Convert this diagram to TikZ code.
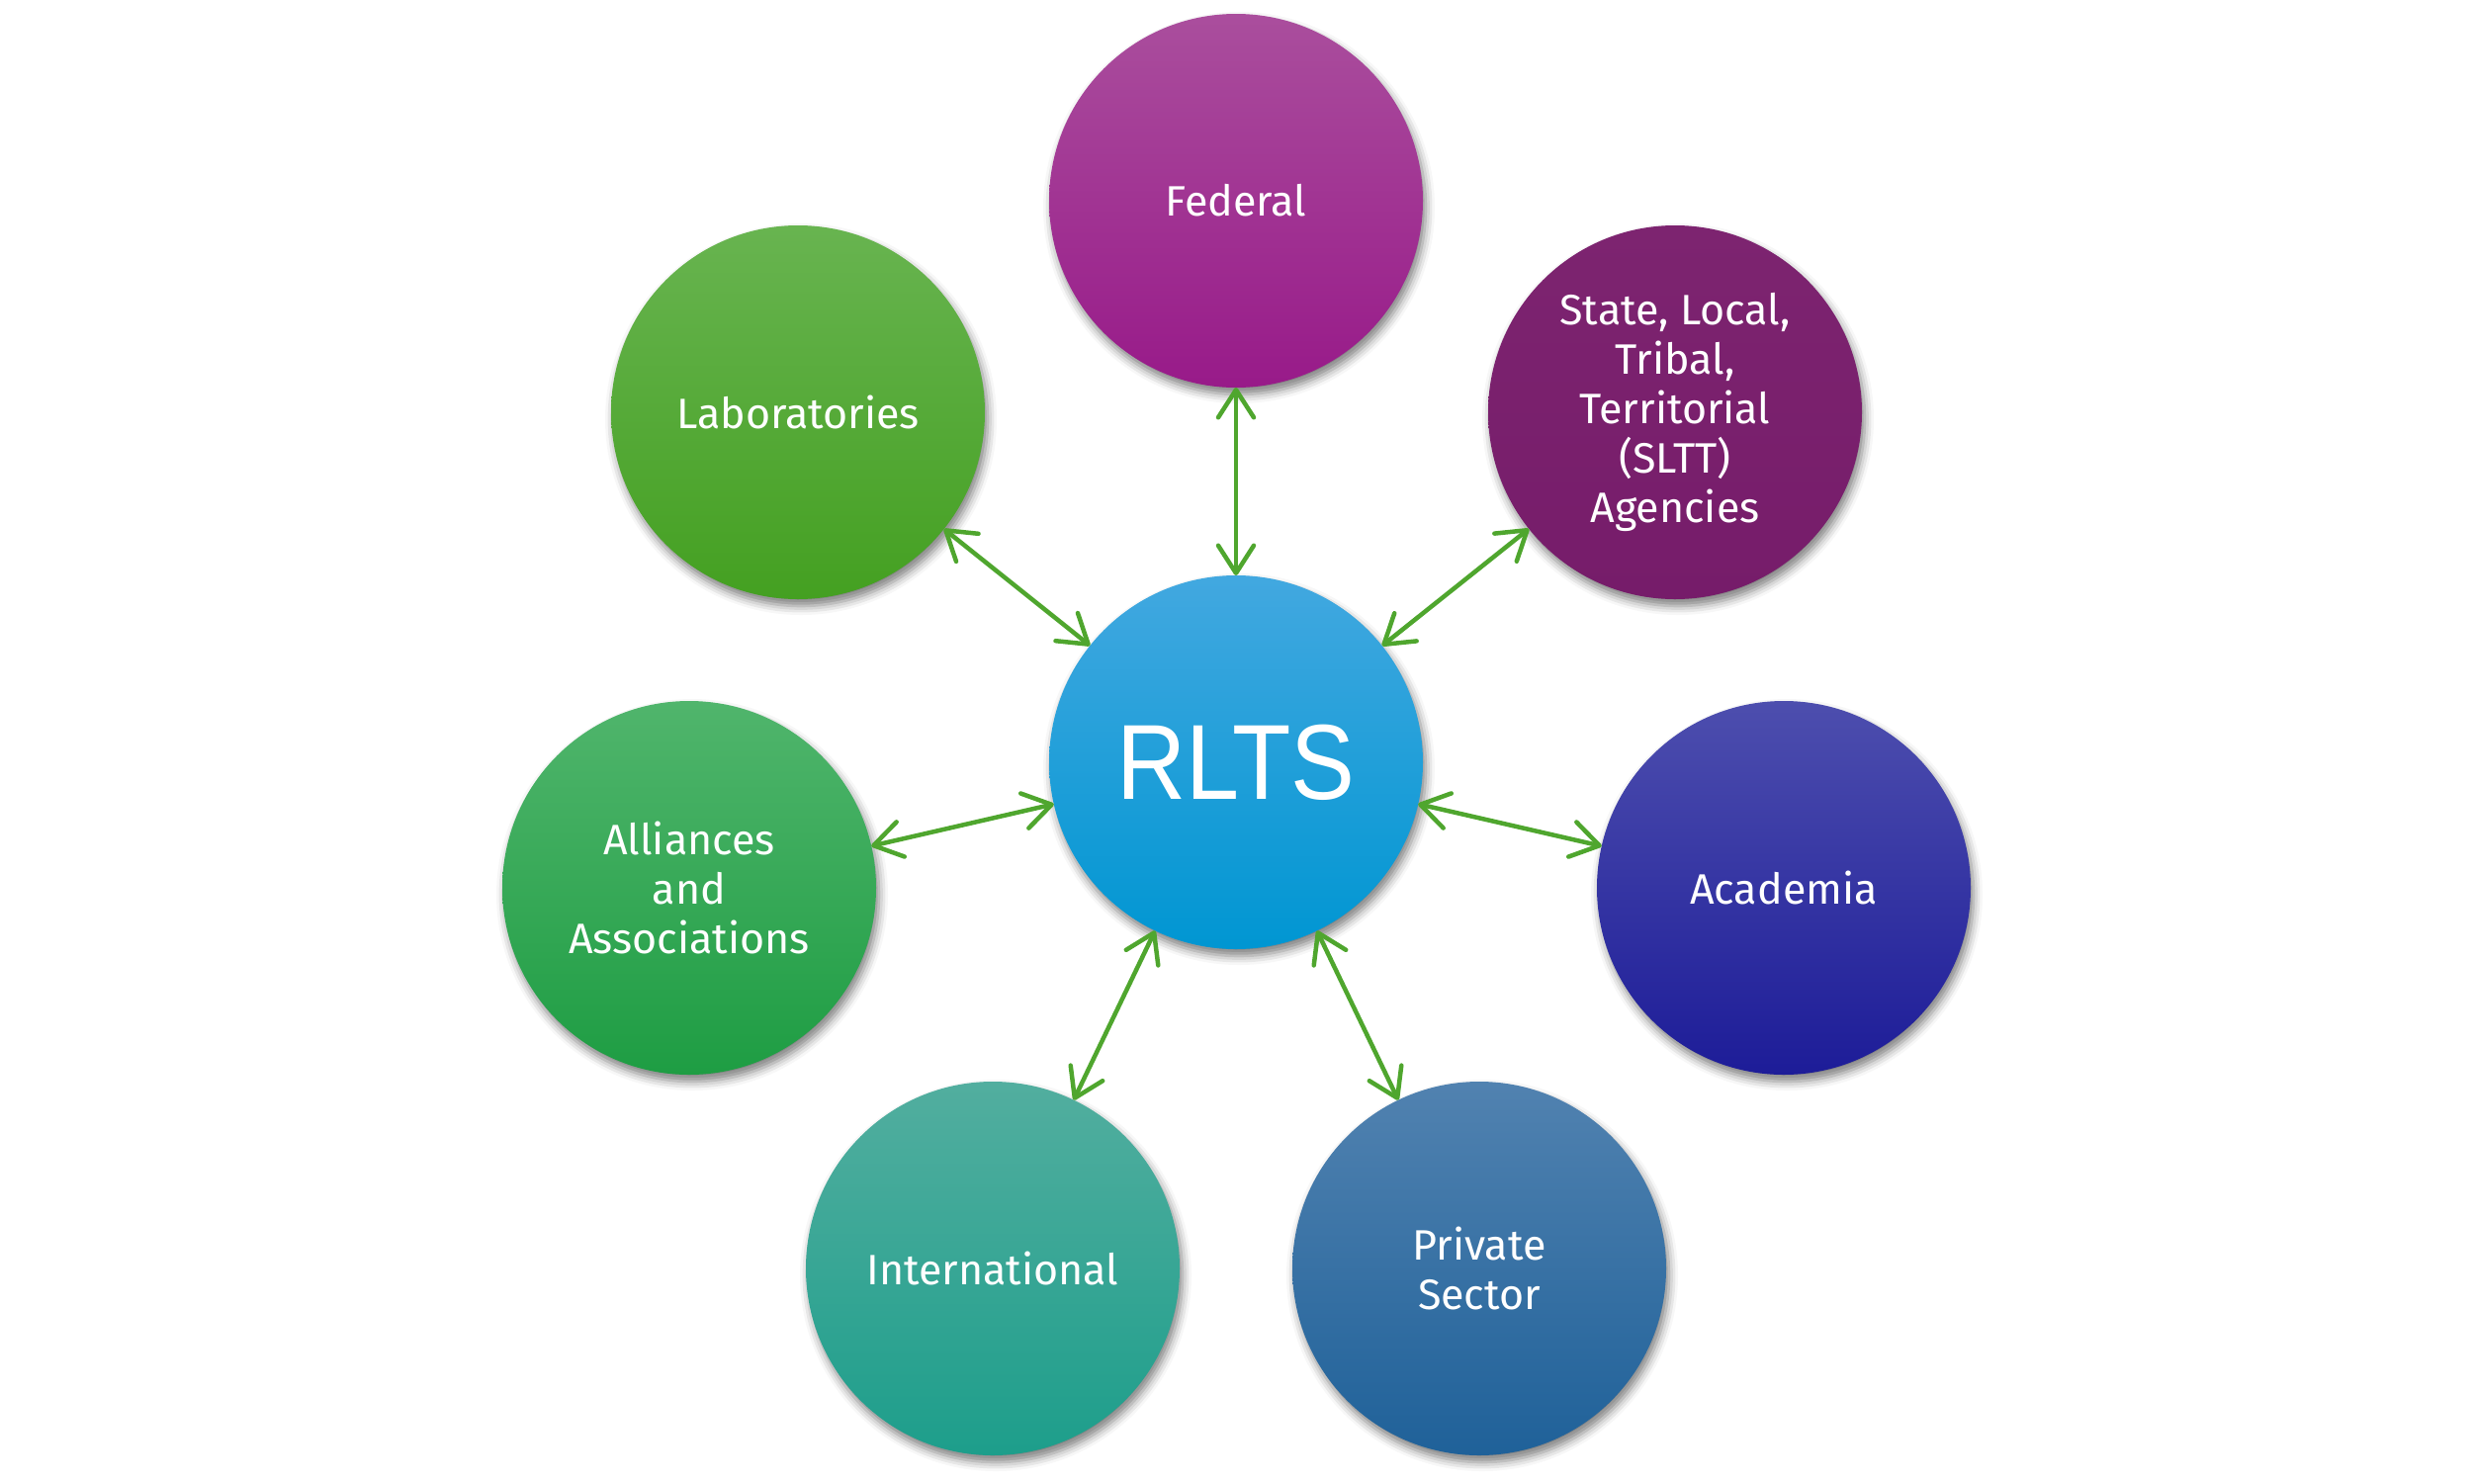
\documentclass[tikz,border=0pt]{standalone}
\usepackage{fontspec}
\setmainfont{Fira Sans}
\newfontfamily\rltsfont{Liberation Sans}
\usetikzlibrary{arrows.meta,shadows.blur}
\definecolor{arrowgreen}{RGB}{79,166,46}
\tikzset{
  bubble/.style={circle, minimum size=378pt, inner sep=0pt, outer sep=0pt,
    text=white, align=center, font=\fontsize{43}{50}\selectfont,
    blur shadow={shadow xshift=3pt, shadow yshift=-7pt, shadow blur radius=9pt, shadow opacity=50}},
  link/.style={draw=arrowgreen, line width=4.5pt,
    {Straight Barb[length=28pt,width=36pt,line cap=round,round]}-{Straight Barb[length=28pt,width=36pt,line cap=round,round]}}
}
\begin{document}
\begin{tikzpicture}[x=1pt,y=-1pt]
\useasboundingbox (0,0) rectangle (2500,1500);
\node[bubble, top color={rgb,255:red,66;green,168;blue,224}, bottom color={rgb,255:red,0;green,150;blue,210}, font=\rltsfont\fontsize{108}{112}\selectfont] (rlts) at (1250,771) {\scalebox{0.9}[1]{RLTS}};
\node[bubble, top color={rgb,255:red,170;green,78;blue,157}, bottom color={rgb,255:red,152;green,26;blue,137}] (fed) at (1250,203) {Federal};
\node[bubble, top color={rgb,255:red,125;green,36;blue,112}, bottom color={rgb,255:red,118;green,28;blue,106}] (sltt) at (1694,417) {State, Local,\\Tribal,\\Territorial\\(SLTT)\\Agencies};
\node[bubble, top color={rgb,255:red,104;green,180;blue,80}, bottom color={rgb,255:red,68;green,160;blue,33}] (lab) at (807,417) {Laboratories};
\node[bubble, top color={rgb,255:red,80;green,181;blue,108}, bottom color={rgb,255:red,30;green,157;blue,67}] (all) at (697,898) {Alliances\\and\\Associations};
\node[bubble, top color={rgb,255:red,77;green,78;blue,174}, bottom color={rgb,255:red,29;green,28;blue,152}] (acad) at (1804,898) {Academia};
\node[bubble, top color={rgb,255:red,82;green,174;blue,159}, bottom color={rgb,255:red,29;green,158;blue,139}] (intl) at (1004,1283) {International};
\node[bubble, top color={rgb,255:red,81;green,130;blue,176}, bottom color={rgb,255:red,31;green,97;blue,153}] (priv) at (1496,1283) {Private\\Sector};
\draw[link] (fed) -- (rlts);
\draw[link] (sltt) -- (rlts);
\draw[link] (lab) -- (rlts);
\draw[link] (all) -- (rlts);
\draw[link] (acad) -- (rlts);
\draw[link] (intl) -- (rlts);
\draw[link] (priv) -- (rlts);
\end{tikzpicture}
\end{document}
